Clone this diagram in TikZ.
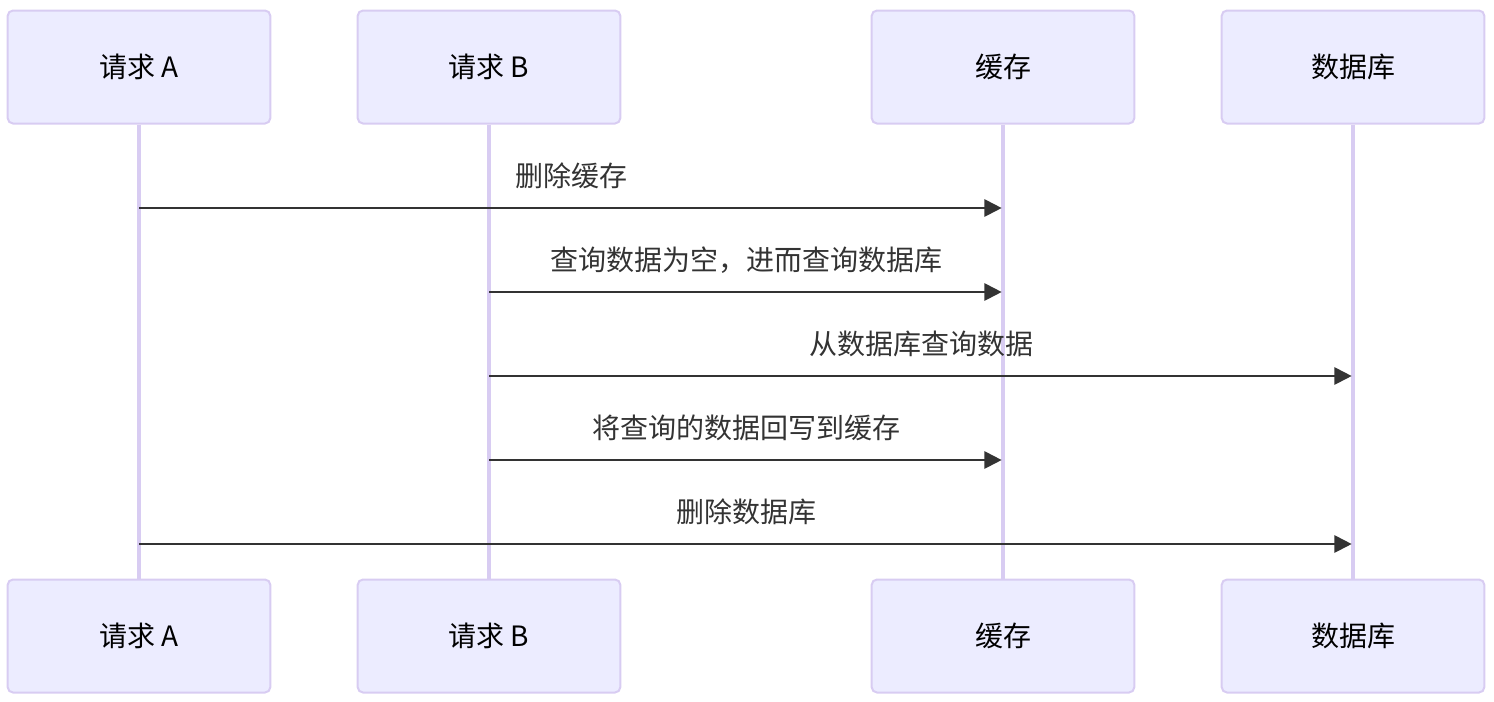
\documentclass[tikz,border=0pt]{standalone}
\usepackage{fontspec}
\setmainfont{Noto Sans CJK SC}
\usepackage{xcolor}
\usetikzlibrary{arrows.meta, positioning, calc}

\definecolor{actorfill}{HTML}{ECECFF}
\definecolor{actorline}{HTML}{D8CCF2}
\definecolor{msgline}{HTML}{333333}

\begin{document}
\begin{tikzpicture}[
    x=0.75pt, y=-0.75pt,
    actor/.style={rectangle, draw=actorline, line width=1.5pt, fill=actorfill, rounded corners=4pt, minimum width=197pt, minimum height=84.75pt, align=center, font=\fontsize{21}{25}\selectfont, text=black},
    lifeline/.style={draw=actorline, line width=2.5pt},
    msg/.style={-{Triangle[length=13pt, width=13pt]}, line width=1.5pt, draw=msgline, shorten >=1pt},
    msglabel/.style={font=\fontsize{21}{25}\selectfont, text=msgline, anchor=base}
]
\useasboundingbox (0,0) rectangle (1494,701);

% =============================================================
% Actors (top and bottom rows)
% =============================================================
\node[actor] (aTop) at (139, 67) {请求 A};
\node[actor] (bTop) at (489, 67) {请求 B};
\node[actor] (cTop) at (1003, 67) {缓存};
\node[actor] (dTop) at (1353, 67) {数据库};

\node[actor] (aBot) at (139, 636) {请求 A};
\node[actor] (bBot) at (489, 636) {请求 B};
\node[actor] (cBot) at (1003, 636) {缓存};
\node[actor] (dBot) at (1353, 636) {数据库};

% Lifelines
\foreach \n in {a, b, c, d}
    \draw[lifeline] (\n Top.south) -- (\n Bot.north);

% =============================================================
% Messages
% =============================================================
\draw[msg] (aTop |- 0,208) -- node[msglabel, above=10pt] {删除缓存} (cTop |- 0,208);
\draw[msg] (bTop |- 0,292) -- node[msglabel, above=10pt] {查询数据为空，进而查询数据库} (cTop |- 0,292);
\draw[msg] (bTop |- 0,376) -- node[msglabel, above=10pt] {从数据库查询数据} (dTop |- 0,376);
\draw[msg] (bTop |- 0,460) -- node[msglabel, above=10pt] {将查询的数据回写到缓存} (cTop |- 0,460);
\draw[msg] (aTop |- 0,544) -- node[msglabel, above=10pt] {删除数据库} (dTop |- 0,544);

\end{tikzpicture}
\end{document}
